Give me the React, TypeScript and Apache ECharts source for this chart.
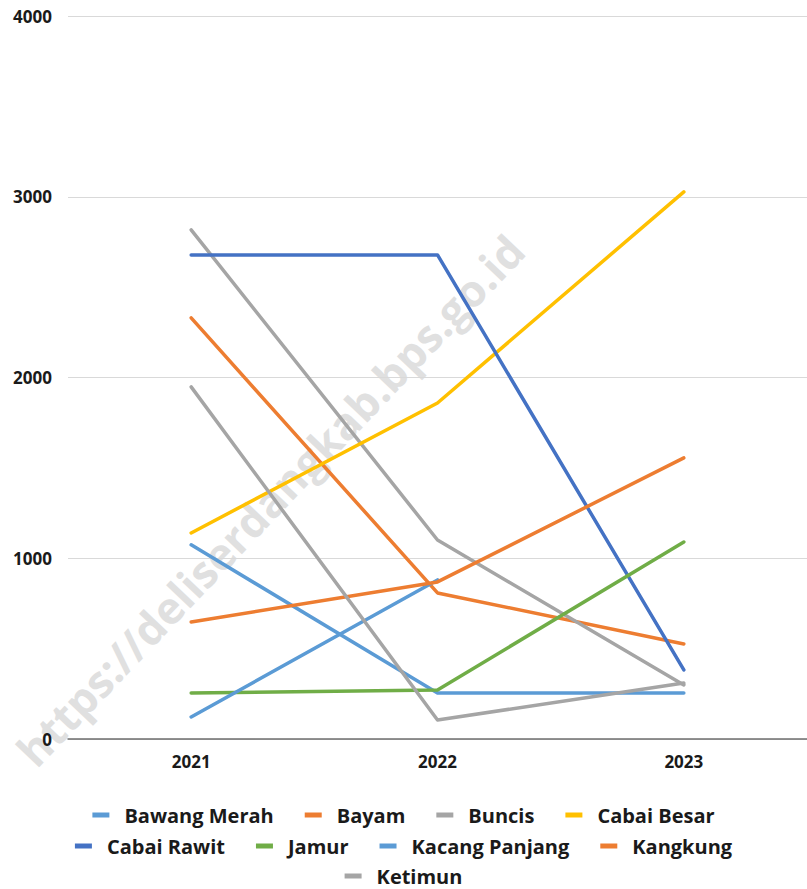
import React, { useEffect, useRef } from "react";
import * as echarts from "echarts";

const years = ["2021", "2022", "2023"];
const seriesNames = [
  "Bawang Merah",
  "Bayam",
  "Buncis",
  "Cabai Besar",
  "Cabai Rawit",
  "Jamur",
  "Kacang Panjang",
  "Kangkung",
  "Ketimun",
];
const bawangMerah = [1074, 255, 255];
const bayam = [2330, 808, 526];
const buncis = [2817, 1101, 299];
const cabaiBesar = [1140, 1859, 3027];
const cabaiRawit = [2678, 2678, 382];
const jamur = [255, 271, 1090];
const kacangPanjang = [122, 880, null];
const kangkung = [647, 869, 1555];
const ketimun = [1948, 105, 310];
const seriesValues = [bawangMerah, bayam, buncis, cabaiBesar, cabaiRawit, jamur, kacangPanjang, kangkung, ketimun];
const colors = ["#5B9BD5", "#ED7D31", "#A5A5A5", "#FFC000", "#4472C4", "#70AD47", "#5B9BD5", "#ED7D31", "#A5A5A5"];
const legendRows = [
  ["Bawang Merah", "Bayam", "Buncis", "Cabai Besar"],
  ["Cabai Rawit", "Jamur", "Kacang Panjang", "Kangkung"],
  ["Ketimun"],
];
const watermark = "https://deliserdangkab.bps.go.id";

const FONT = "Open Sans";

export default function App() {
  const ref = useRef<HTMLDivElement>(null);
  useEffect(() => {
    if (!ref.current) return;
    const chart = echarts.init(ref.current, null, { renderer: "svg" });
    const legendTops = [804, 835, 865];
    chart.setOption({
      animation: false,
      backgroundColor: "#ffffff",
      color: colors,
      grid: { left: 68, right: 0, top: 16, bottom: 150, containLabel: false },
      xAxis: {
        type: "category",
        data: years,
        boundaryGap: true,
        axisLine: { lineStyle: { color: "#6e6e6e", width: 1.5 } },
        axisTick: { show: false },
        axisLabel: { color: "#1a1a1a", fontFamily: FONT, fontWeight: "bold", fontSize: 17, margin: 14 },
      },
      yAxis: {
        type: "value",
        min: 0,
        max: 4000,
        interval: 1000,
        axisLine: { show: false },
        axisTick: { show: false },
        splitLine: { lineStyle: { color: "#d9d9d9", width: 1 } },
        axisLabel: {
          color: "#1a1a1a",
          fontFamily: FONT,
          fontWeight: "bold",
          fontSize: 17,
          margin: 16,
          formatter: (v: number) => String(v),
        },
      },
      legend: legendRows.map((row, i) => ({
        data: row,
        top: legendTops[i],
        left: "center",
        icon: "rect",
        itemWidth: 17,
        itemHeight: 5,
        itemGap: 31,
        padding: 0,
        textStyle: {
          color: "#1a1a1a",
          fontFamily: FONT,
          fontWeight: "bold",
          fontSize: 20,
          lineHeight: 22,
          padding: [0, 0, 0, 10],
        },
      })),
      graphic: [
        {
          type: "text",
          x: 270,
          y: 500,
          rotation: 0.81,
          z: -10,
          silent: true,
          style: {
            text: watermark,
            fill: "#e0e0e0",
            font: `bold 44px "${FONT}"`,
            align: "center",
            verticalAlign: "middle",
          },
        },
      ],
      series: seriesNames.map((name, i) => ({
        name,
        type: "line",
        data: seriesValues[i],
        symbol: "none",
        lineStyle: { width: 3.5, color: colors[i], cap: "round", join: "round" },
        itemStyle: { color: colors[i] },
        z: 3,
      })),
    });
    return () => chart.dispose();
  }, []);
  return (
    <div
      ref={ref}
      style={{ position: "fixed", left: 0, top: 0, width: 807, height: 889, background: "#fff" }}
    />
  );
}
